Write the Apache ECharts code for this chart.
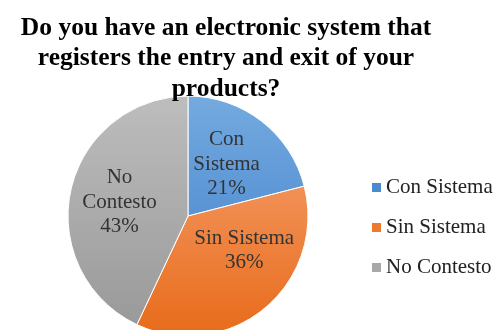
<!DOCTYPE html>
<html><head><meta charset="utf-8">
<script src="https://cdn.jsdelivr.net/npm/echarts@6/dist/echarts.min.js"></script>
<style>html,body{margin:0;padding:0;background:#fff}#c{width:504px;height:330px}</style>
</head><body><div id="c"></div>
<script>
const titleText = "Do you have an electronic system that\nregisters the entry and exit of your\nproducts?";
const categories = ["Con Sistema", "Sin Sistema", "No Contesto"];
const values = [21, 36, 43];
const labelTexts = ["Con\nSistema\n21%", "Sin Sistema\n36%", "No\nContesto\n43%"];
const labelOffsets = [[0, -2], [16, -14], [-7, 0]];
const gradStops = [["#74aadf", "#3c7cc9"], ["#f7a77a", "#e86b1a"], ["#bdbdbd", "#989898"]];
const legendColors = ["#4a8ad0", "#ee7a30", "#a8a8a8"];

const chart = echarts.init(document.getElementById('c'), null, {renderer: 'canvas'});
const cx = 188, cy = 216, R = 120;
const data = categories.map((name, i) => ({
  name, value: values[i],
  itemStyle: {
    color: new echarts.graphic.LinearGradient(0, cy - R, 0, cy + R, [
      {offset: 0, color: gradStops[i][0]}, {offset: 1, color: gradStops[i][1]}], true)
  },
  label: {offset: labelOffsets[i], formatter: labelTexts[i]}
}));
chart.setOption({
  animation: false,
  title: {
    text: titleText, left: 221, top: 8, textAlign: 'center',
    textStyle: {fontFamily: 'Liberation Serif', fontWeight: 'bold', fontSize: 25.5, lineHeight: 30.5, color: '#000'}
  },
  legend: {
    orient: 'vertical', left: 370, top: 177, itemGap: 19, padding: 0,
    itemWidth: 11, itemHeight: 11, icon: 'rect',
    data: categories.map((n, i) => ({name: n, itemStyle: {color: legendColors[i]}})),
    textStyle: {fontFamily: 'Liberation Serif', fontSize: 21, lineHeight: 21, color: '#222', padding: [0, 0, 0, -1]}
  },
  series: [{
    type: 'pie', center: [cx, cy], radius: R, startAngle: 90, clockwise: true,
    data,
    itemStyle: {borderColor: '#fff', borderWidth: 1},
    label: {show: true, position: 'inside', fontFamily: 'Liberation Serif', fontSize: 21, lineHeight: 24.5, color: '#333', align: 'center'},
    labelLine: {show: false},
    emphasis: {disabled: true}
  }]
});
</script></body></html>
